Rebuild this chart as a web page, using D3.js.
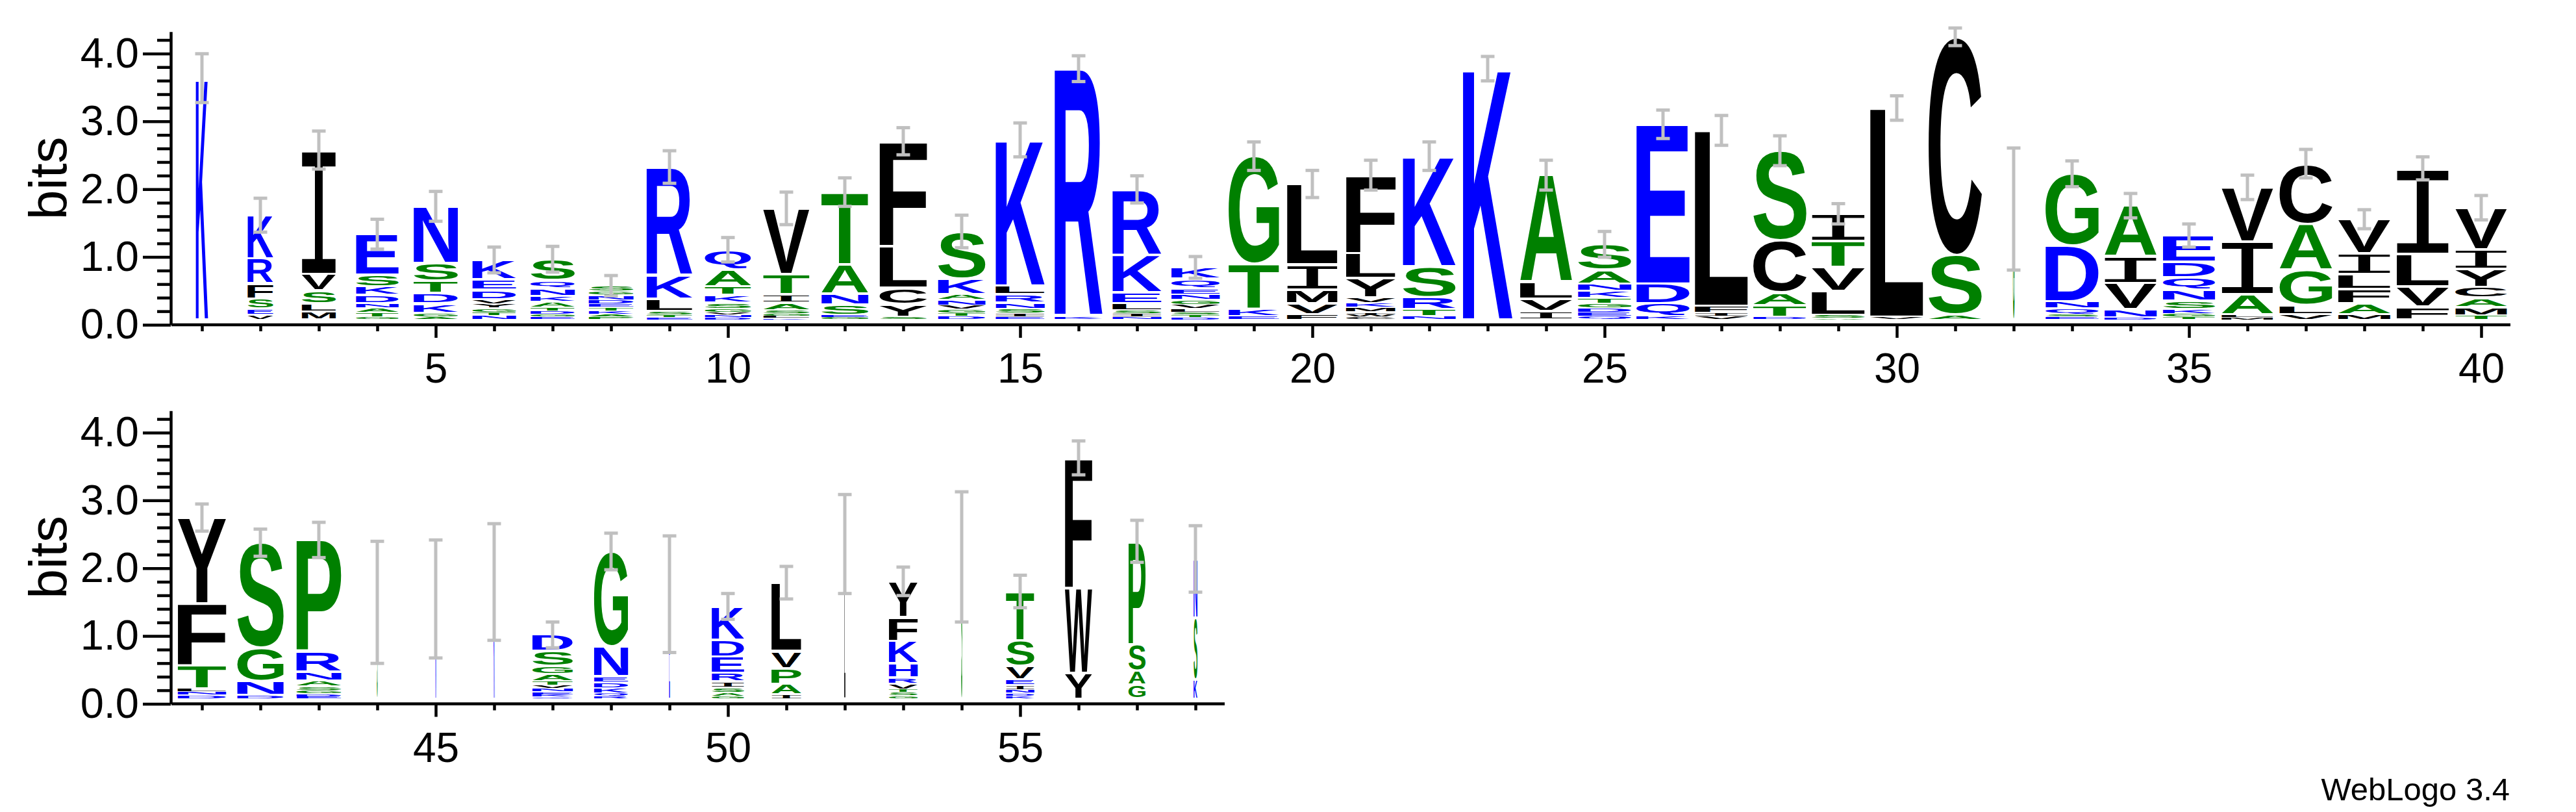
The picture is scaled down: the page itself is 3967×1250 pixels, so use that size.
<!DOCTYPE html>
<html>
<head>
<meta charset="utf-8">
<script src="https://d3js.org/d3.v7.min.js"></script>
<style>
	body { margin: 0; background: #fff; }
	text { font-family: "Liberation Sans", Arial, Helvetica, sans-serif; }
</style>
</head>
<body>
<div id="chart-area"></div>
<script>

// Sequence logo columns, letters listed from top of the stack down
let stackLetters = [
	"K", "KRFSEV", "IVSLM", "ESKDNATG", "NSTDKGA", "KEDVYGTN", "SQNKATDGE", "SGNDETKAP",
	"RKLSTE", "QATKSGVND", "VTIASGLK", "TANSEG", "FLCYS", "SKANVGTD", "KLRNSIE", "RK",
	"RKELSIN", "KQENGVLSTD", "GTKE", "LIMVF", "FLYVKMIWC", "KSRTN", "K", "ALVI",
	"SANKTGDEQ", "EDQK", "LFIV", "SCATD", "ITVLSA", "LV", "CSA", "G",
	"GDNQSE", "AIVND", "EDQNSKGT", "VIALM", "CAGLV", "VILFAM", "ILVF", "VIYCAMT",
	"YFTLND", "SGND", "PRNASGDE", "S", "N", "K", "DSGATVNEKQ", "GNEDKQR",
	"E", "KDERISAG", "LVPAI", "L", "YFKHRVTSG", "S", "TSVEINDK", "FWY",
	"PSAG", "NSK"
];

// bits for each letter, same order as above
let stackBits = [
	[3.56], [.64, .37, .22, .15, .09, .07], [1.83, .24, .19, .12, .12],
	[.60, .17, .13, .12, .07, .07, .06, .04], [.84, .26, .18, .15, .14, .06, .04],
	[.29, .15, .14, .07, .06, .06, .05, .06], [.31, .12, .11, .09, .08, .05, .05, .04, .04],
	[.08, .06, .07, .06, .05, .05, .05, .04, .04], [1.60, .34, .19, .05, .04, .03],
	[.29, .25, .13, .11, .09, .05, .04, .04, .03], [.97, .30, .12, .11, .05, .04, .03, .02],
	[1.07, .43, .16, .15, .04, .03], [1.55, .61, .24, .19, .04],
	[.70, .23, .08, .08, .06, .05, .05, .05], [2.15, .13, .12, .09, .07, .05, .04],
	[3.66, .04], [.97, .55, .16, .10, .05, .05, .04],
	[.17, .14, .09, .08, .07, .06, .05, .04, .04, .03], [1.59, .67, .10, .05],
	[1.19, .37, .20, .16, .08], [1.15, .37, .28, .08, .07, .07, .04, .03, .04],
	[1.62, .46, .18, .10, .05], [3.70], [1.58, .24, .19, .12],
	[.38, .20, .11, .10, .08, .07, .06, .06, .05], [2.35, .29, .19, .05], [2.59, .10, .05, .05],
	[1.32, .77, .19, .17, .04], [.40, .38, .36, .35, .05, .02], [3.08, .04], [3.22, .88, .07],
	[1.63], [1.06, .82, .10, .09, .04, .04], [.75, .39, .39, .12, .03],
	[.39, .23, .18, .16, .13, .06, .05, .04], [.80, .78, .30, .04, .03], [.89, .68, .52, .13, .08],
	[.50, .31, .22, .21, .16, .08], [1.26, .48, .30, .19], [.62, .28, .27, .16, .14, .12, .06],
	[1.27, .91, .34, .05, .05, .05], [1.55, .49, .21, .05], [1.64, .30, .14, .08, .06, .05, .04, .03],
	[1.42], [1.47], [1.72], [.24, .22, .12, .10, .06, .05, .05, .04, .03, .03],
	[1.40, .44, .09, .08, .08, .04, .04], [1.54], [.49, .25, .24, .13, .09, .07, .05, .04],
	[1.01, .25, .23, .16, .06], [2.28], [.53, .35, .33, .21, .09, .08, .05, .05, .04],
	[2.09], [.72, .38, .20, .08, .07, .05, .04, .04], [1.92, 1.25, .38], [1.52, .39, .21, .20],
	[.87, .91, .28]
];

// column weight (share of sequences without a gap) -> letter width
let columnWeight = [
	.23, .48, .64, .80, .83, .82, .83, .84, .86, .87, .87, .88, .89, .89, .92, .90, .92, .91, .95, .95,
	.93, .99, .93, .98, 1, 1, 1, 1, 1, 1, 1, .03, 1, .98, .98, .97, .99, .98, .98, .97,
	.91, .87, .84, .015, .015, .02, .76, .64, .015, .61, .56, .02, .54, .02, .53, .51, .32, .07
];

// half length of the error bars, in bits
let errorBits = [
	.36, .25, .28, .22, .22, .19, .19, .15, .24, .18, .24, .21, .20, .24, .25, .19, .20, .16, .21, .20,
	.22, .21, .18, .22, .19, .21, .22, .22, .15, .18, .13, .90, .19, .18, .17, .18, .21, .14, .17, .18,
	.20, .20, .26, .90, .87, .86, .19, .27, .86, .19, .24, .73, .21, .96, .24, .25, .31, .49
];

let yTickValues = d3.range(22).map(i => i / 5);

// letter colours (hydrophobicity scheme)
let colorGroups = [
	{letters: "RKDENQH", color: "#0000ff"},
	{letters: "SGTAP", color: "#008000"},
	{letters: "YVMCLFIW", color: "#000000"}
];

function letterColor(ch) {
	let grp = colorGroups.find(c => c.letters.includes(ch));
	return grp ? grp.color : "#000";
}

// SVG Size
let width = 3967,
	height = 1250;

let bitPx = 104.4,
	yMax = Math.log2(20),
	colPx = 90,
	letterPx = 82,
	lift = 8;

let panels = [
	{first: 1, last: 40, y0: 500},
	{first: 41, last: 58, y0: 1083.5}
];

let svg = d3.select("#chart-area").append("svg")
	.attr("width", width)
	.attr("height", height);

svg.append("rect").attr("width", width).attr("height", height).attr("fill", "#fff");

// ink box of a glyph, measured on a canvas
let ctx = document.createElement("canvas").getContext("2d");
let glyphCache = {};
function glyphBox(ch) {
	if (glyphCache[ch]) return glyphCache[ch];
	// the logo's I has serifs, a monospace I is closest
	let fam = ch === "I" ? "Liberation Mono" : "Liberation Sans";
	let weight = ch === "I" ? "normal" : "bold";
	ctx.font = `${weight} 200px "${fam}"`;
	let m = ctx.measureText(ch);
	let box = {
		fam: fam,
		weight: weight,
		x0: -m.actualBoundingBoxLeft,
		x1: m.actualBoundingBoxRight,
		y0: -m.actualBoundingBoxAscent,
		y1: m.actualBoundingBoxDescent
	};
	glyphCache[ch] = box;
	return box;
}

panels.forEach(p => {

	let g = svg.append("g");

	// scales
	let x = d3.scaleLinear()
		.domain([p.first, p.last])
		.range([311, 311 + (p.last - p.first) * colPx]);

	let y = d3.scaleLinear()
		.domain([0, yMax])
		.range([p.y0, p.y0 - yMax * bitPx]);

	// y axis
	let yAxis = d3.axisLeft(y)
		.tickValues(yTickValues)
		.tickSize(21)
		.tickSizeOuter(0)
		.tickPadding(28)
		.tickFormat((d, i) => i % 5 === 0 ? d3.format(".1f")(d) : "");

	let yAxisGroup = g.append("g")
		.attr("transform", `translate(263,0)`)
		.call(yAxis);

	yAxisGroup.select(".domain").attr("stroke-width", 4.5);
	yAxisGroup.selectAll(".tick line")
		.attr("stroke-width", 4.5)
		.attr("x2", (d, i) => i % 5 === 0 ? -43 : -21);
	yAxisGroup.selectAll(".tick text")
		.attr("font-size", 65)
		.attr("fill", "#000")
		.style("font-family", "'Liberation Sans', Arial, sans-serif");

	g.append("text")
		.attr("transform", `translate(102,${y(yMax / 2)}) rotate(-90)`)
		.attr("text-anchor", "middle")
		.attr("font-size", 82)
		.text("bits");

	// x axis
	let xAxis = d3.axisBottom(x)
		.tickValues(d3.range(p.first, p.last + 1))
		.tickSize(10)
		.tickSizeOuter(0)
		.tickFormat(d => d % 5 === 0 ? d : "");

	let xAxisGroup = g.append("g")
		.attr("transform", `translate(0,${p.y0})`)
		.call(xAxis);

	xAxisGroup.select(".domain").remove();
	xAxisGroup.append("line")
		.attr("x1", x(p.first) - colPx / 2 - 2)
		.attr("x2", x(p.last) + colPx / 2)
		.attr("stroke", "#000")
		.attr("stroke-width", 4.5);
	xAxisGroup.selectAll(".tick line")
		.attr("stroke-width", 4.5)
		.attr("y2", d => d % 5 === 0 ? 20 : 10);
	xAxisGroup.selectAll(".tick text")
		.attr("y", 89)
		.attr("dy", null)
		.attr("font-size", 64)
		.attr("fill", "#000")
		.style("font-family", "'Liberation Sans', Arial, sans-serif");

	// columns of this panel
	let cols = d3.range(p.first, p.last + 1).map(pos => {
		let i = pos - 1;
		let chars = stackLetters[i].split("");
		let bits = stackBits[i];
		// stack from the bottom up
		let cum = 0;
		let stack = chars.map((ch, k) => ({ch: ch, bits: bits[k]})).reverse().map(s => {
			s.base = cum;
			cum += s.bits;
			return s;
		});
		return {pos: pos, stack: stack, total: cum, weight: columnWeight[i], err: errorBits[i]};
	});

	let logo = g.append("g").attr("transform", `translate(0,${-lift})`);

	let colGroups = logo.selectAll(".col")
		.data(cols)
		.join("g")
		.attr("class", "col");

	colGroups.selectAll("text")
		.data(d => d.stack.map(s => Object.assign({pos: d.pos, weight: d.weight}, s)))
		.join("text")
		.text(d => d.ch)
		.attr("font-size", 200)
		.attr("font-weight", d => glyphBox(d.ch).weight)
		.style("font-family", d => `"${glyphBox(d.ch).fam}"`)
		.attr("fill", d => letterColor(d.ch))
		.attr("transform", d => {
			let b = glyphBox(d.ch);
			let w = letterPx * d.weight;
			let top = y(d.base + d.bits),
				bottom = y(d.base);
			let pad = Math.min(2, (bottom - top) * 0.15);
			let h = bottom - top - 2 * pad;
			let sx = w / (b.x1 - b.x0),
				sy = h / (b.y1 - b.y0);
			return `translate(${x(d.pos) - w / 2},${top + pad}) scale(${sx},${sy}) translate(${-b.x0},${-b.y0})`;
		});

	// error bars
	let errColor = "#c0c0c0";
	let bars = logo.selectAll(".err")
		.data(cols)
		.join("g")
		.attr("class", "err")
		.attr("stroke", errColor)
		.attr("stroke-width", 5);

	bars.append("line")
		.attr("x1", d => x(d.pos))
		.attr("x2", d => x(d.pos))
		.attr("y1", d => y(d.total + d.err))
		.attr("y2", d => y(d.total - d.err));

	[1, -1].forEach(s => {
		bars.append("line")
			.attr("x1", d => x(d.pos) - 10.5)
			.attr("x2", d => x(d.pos) + 10.5)
			.attr("y1", d => y(d.total + s * d.err))
			.attr("y2", d => y(d.total + s * d.err));
	});
});

svg.append("text")
	.attr("x", 3865)
	.attr("y", 1232)
	.attr("text-anchor", "end")
	.attr("font-size", 49)
	.text("WebLogo 3.4");

</script>
</body>
</html>
